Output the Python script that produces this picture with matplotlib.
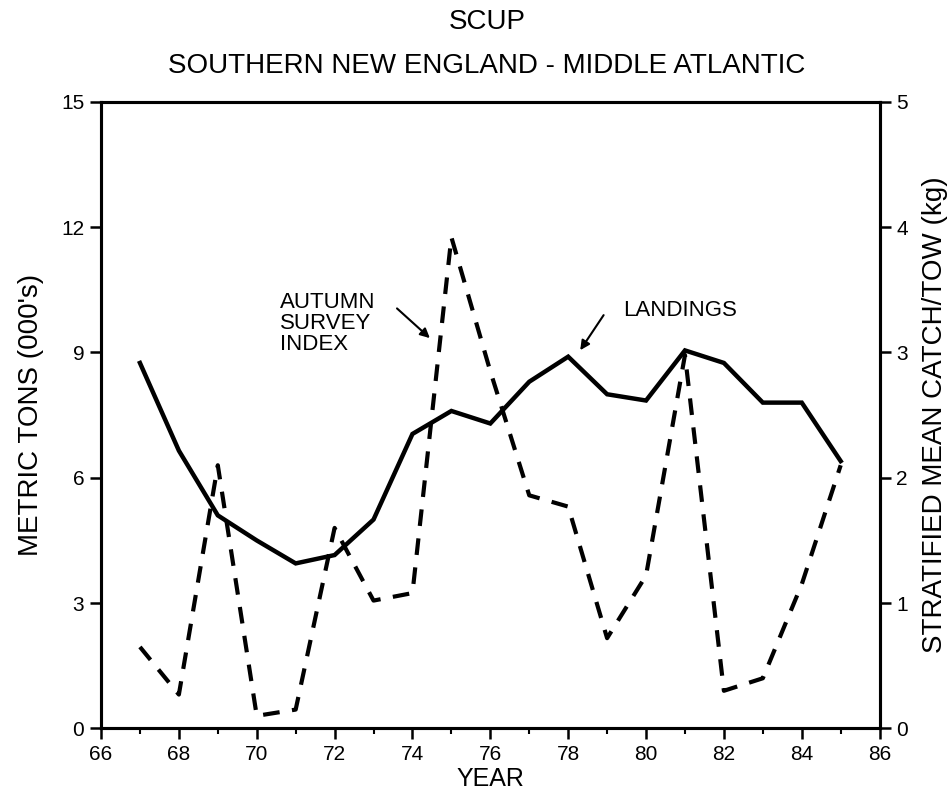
import numpy as np
import matplotlib.pyplot as plt
from matplotlib.ticker import MultipleLocator

plt.rcParams['font.family'] = ['Liberation Sans', 'DejaVu Sans']

years = [67, 68, 69, 70, 71, 72, 73, 74, 75, 76, 77, 78, 79, 80, 81, 82, 83, 84, 85]
landings = [8.75, 6.65, 5.1, 4.5, 3.95, 4.15, 5.0, 7.05, 7.6, 7.3, 8.3, 8.9,
            8.0, 7.85, 9.05, 8.75, 7.8, 7.8, 6.4]  # 000's metric tons
survey = [0.65, 0.27, 2.1, 0.1, 0.15, 1.6, 1.02, 1.08, 3.92, 2.85, 1.86, 1.77,
          0.72, 1.22, 2.98, 0.3, 0.4, 1.15, 2.1]  # kg per tow

fig = plt.figure(figsize=(9.53, 7.90), dpi=100)
ax = fig.add_axes([0.106, 0.078, 0.817, 0.793])
ax2 = ax.twinx()

ax.plot(years, landings, color='black', lw=3.2, solid_joinstyle='miter')
ax2.plot(years, survey, color='black', lw=3.0, dashes=(4.0, 3.0))

ax.set_xlim(66, 86)
ax.set_ylim(0, 15)
ax2.set_ylim(0, 5)
ax.xaxis.set_major_locator(MultipleLocator(2))
ax.xaxis.set_minor_locator(MultipleLocator(1))
ax.yaxis.set_major_locator(MultipleLocator(3))
ax2.yaxis.set_major_locator(MultipleLocator(1))

for a in (ax, ax2):
    for s in a.spines.values():
        s.set_linewidth(2.2)
ax.tick_params(axis='both', which='major', length=8, width=1.8, labelsize=15, pad=4)
ax.tick_params(axis='x', which='minor', length=4, width=1.5)
ax2.tick_params(axis='y', which='major', length=8, width=1.8, labelsize=15, pad=4)

ax.set_xlabel('YEAR', fontsize=18, labelpad=2)
ax.set_ylabel("METRIC TONS (000's)", fontsize=20, labelpad=12)
ax2.set_ylabel('STRATIFIED MEAN CATCH/TOW (kg)', fontsize=20, labelpad=10)

fig.text(0.511, 0.972, 'SCUP', ha='center', va='center', fontsize=20)
fig.text(0.511, 0.917, 'SOUTHERN NEW ENGLAND - MIDDLE ATLANTIC', ha='center', va='center', fontsize=20)

ax.text(70.6, 10.45, 'AUTUMN\nSURVEY\nINDEX', fontsize=16, va='top', ha='left', linespacing=1.0)
ax.annotate('', xy=(74.5, 9.3), xytext=(73.55, 10.1),
            arrowprops=dict(arrowstyle='-|>', color='black', lw=1.5, mutation_scale=14))
ax.text(79.4, 10.0, 'LANDINGS', fontsize=16, va='center', ha='left')
ax.annotate('', xy=(78.27, 9.0), xytext=(78.95, 9.95),
            arrowprops=dict(arrowstyle='-|>', color='black', lw=1.5, mutation_scale=14))

plt.savefig('out.png', dpi=100)
